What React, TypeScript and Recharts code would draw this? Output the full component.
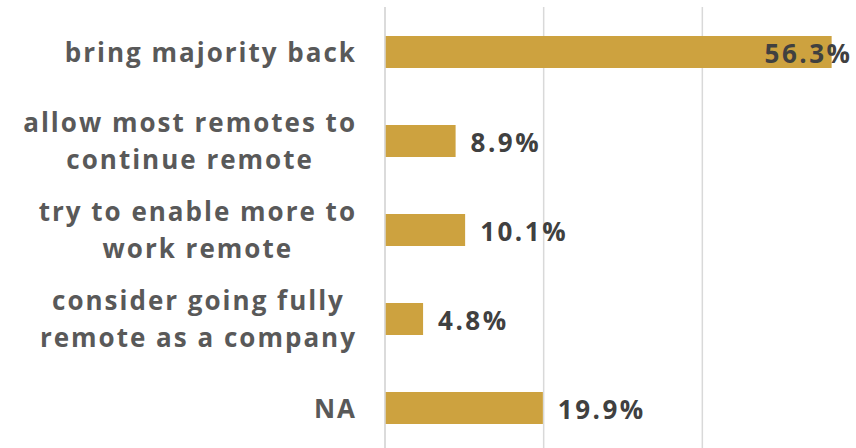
import React from 'react';
import { BarChart, Bar, XAxis, YAxis, CartesianGrid, LabelList } from 'recharts';

const categories = [
  'bring majority back',
  'allow most remotes to\ncontinue remote',
  'try to enable more to\nwork remote',
  'consider going fully\nremote as a company',
  'NA',
];
const shares = [56.3, 8.9, 10.1, 4.8, 19.9];
const xTicks = [0, 20, 40, 60];

const data = categories.map((name, i) => ({ name, value: shares[i] }));

const FONT = '"Open Sans", sans-serif';
const BAR = '#CDA23F';
const LABEL_RIGHT = 355;
const VIEW_W = 856;
const CAT_SPACING = 2;
const VAL_SPACING = 2.5;

let ctx: CanvasRenderingContext2D | null = null;
const measure = (s: string, size: number, spacing: number) => {
  if (!ctx) ctx = document.createElement('canvas').getContext('2d');
  const base = ctx ? ((ctx.font = `700 ${size}px "Open Sans"`), ctx.measureText(s).width) : s.length * size * 0.58;
  return base + spacing * (s.length - 1);
};

const CategoryTick = (props: any) => {
  const { y, payload } = props;
  const lines: string[] = String(payload.value).split('\n');
  const widest = Math.max(...lines.map((l) => measure(l, 26, CAT_SPACING)));
  const cx = LABEL_RIGHT - widest / 2;
  const first = lines.length === 1 ? y + 10 : y - 8.5;
  return (
    <text
      x={cx}
      y={first}
      textAnchor="middle"
      fill="#595959"
      fontFamily={FONT}
      fontWeight={700}
      fontSize={26}
      letterSpacing={CAT_SPACING}
    >
      {lines.map((l, i) => (
        <tspan key={i} x={cx + CAT_SPACING / 2} dy={i === 0 ? 0 : 37}>
          {l}
        </tspan>
      ))}
    </text>
  );
};

const ValueLabel = (props: any) => {
  const { x, y, width, height, value } = props;
  const text = `${Number(value).toFixed(1)}%`;
  const w = measure(text, 26, VAL_SPACING);
  let tx = x + width + 15;
  if (tx + w > VIEW_W - 4) tx = VIEW_W - 6 - w;
  return (
    <text
      x={tx}
      y={y + height / 2 + 11}
      fill="#404040"
      fontFamily={FONT}
      fontWeight={700}
      fontSize={26}
      letterSpacing={VAL_SPACING}
    >
      {text}
    </text>
  );
};

export default function App() {
  return (
    <div
      style={{
        position: 'absolute',
        left: 0,
        top: 0,
        width: VIEW_W,
        height: 448,
        overflow: 'hidden',
        background: '#fff',
      }}
    >
      <BarChart
        width={870}
        height={460}
        data={data}
        layout="vertical"
        margin={{ top: 7, right: 9, bottom: 8, left: 0 }}
      >
        <CartesianGrid horizontal={false} stroke="#d9d9d9" strokeWidth={1.5} />
        <XAxis type="number" domain={[0, 60]} ticks={xTicks} hide />
        <YAxis
          type="category"
          dataKey="name"
          width={385}
          axisLine={{ stroke: '#d9d9d9', strokeWidth: 1.5 }}
          tickLine={false}
          tick={<CategoryTick />}
          interval={0}
        />
        <Bar dataKey="value" fill={BAR} barSize={32} isAnimationActive={false}>
          <LabelList dataKey="value" content={<ValueLabel />} />
        </Bar>
      </BarChart>
    </div>
  );
}
